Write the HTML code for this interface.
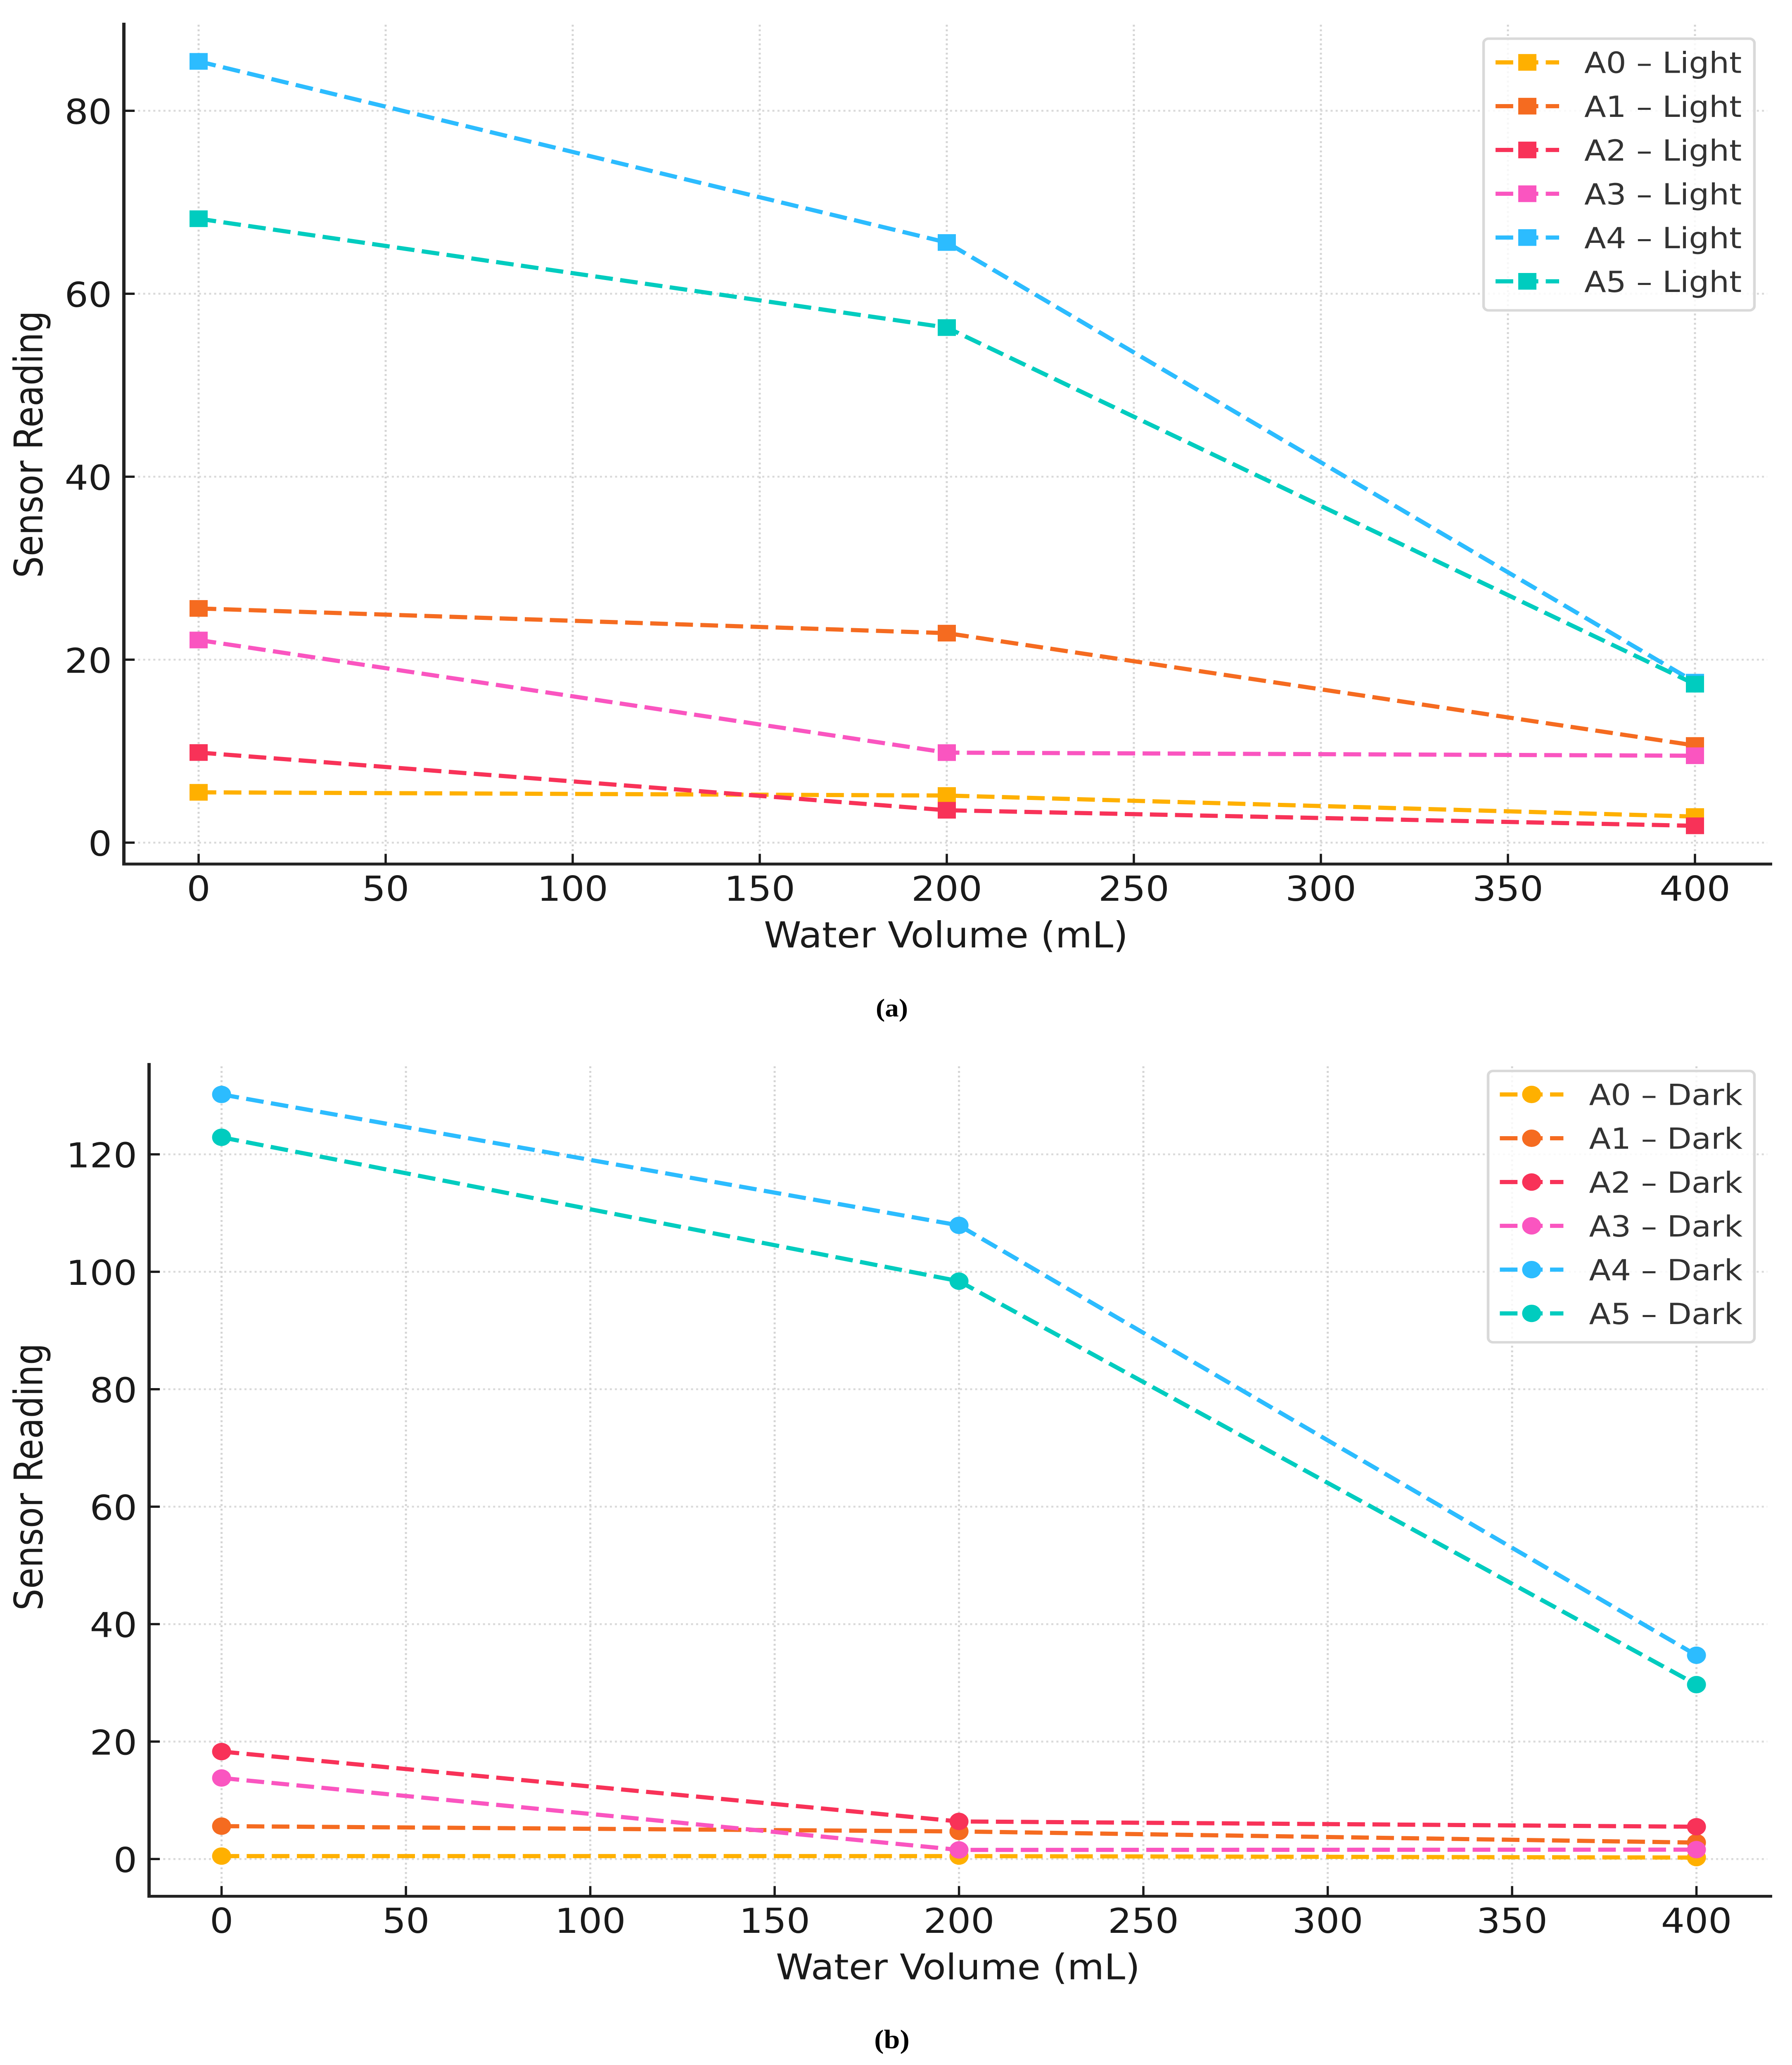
<!DOCTYPE html>
<html lang="en">
<head>
<meta charset="utf-8">
<title>Sensor Reading vs Water Volume</title>
<style>
html,body{margin:0;padding:0;background:#fff;width:100%;height:100%;overflow:hidden;}
svg{display:block;width:100vw;height:100vh;}
text{font-family:"DejaVu Sans","Liberation Sans",sans-serif;}
.tick{font-size:90px;fill:#1a1a1a;}
.title{fill:#1a1a1a;}
.legend-text{font-size:77px;fill:#333;}
.caption{font-family:"Liberation Serif",serif;font-weight:700;fill:#000;}
</style>
</head>
<body>
<svg id="figure" xmlns="http://www.w3.org/2000/svg" viewBox="0 0 4340 5449" preserveAspectRatio="none">
  <rect x="0" y="0" width="4340" height="5449" fill="#fff"/>
  <g id="panel-a"></g>
  <g id="panel-b"></g>
  <text class="title" x="2291" y="2500" font-size="94" text-anchor="middle" textLength="882" lengthAdjust="spacingAndGlyphs">Water Volume (mL)</text>
  <text class="title" transform="translate(102.7,1172.5) rotate(-90)" font-size="95" text-anchor="middle" textLength="705" lengthAdjust="spacingAndGlyphs">Sensor Reading</text>
  <text class="caption" x="2160" y="2682" font-size="67" text-anchor="middle">(a)</text>
  <text class="title" x="2320" y="5222.6" font-size="93" text-anchor="middle" textLength="882" lengthAdjust="spacingAndGlyphs">Water Volume (mL)</text>
  <text class="title" transform="translate(102.7,3897) rotate(-90)" font-size="95" text-anchor="middle" textLength="705" lengthAdjust="spacingAndGlyphs">Sensor Reading</text>
  <text class="caption" x="2160" y="5405" font-size="70" text-anchor="middle">(b)</text>
</svg>
<script>
const waterVolumes = [0, 200, 400];
const xTickLabels = [0, 50, 100, 150, 200, 250, 300, 350, 400];
const lightYTickLabels = [0, 20, 40, 60, 80];
const darkYTickLabels = [0, 20, 40, 60, 80, 100, 120];

const lightNames = ['A0 – Light', 'A1 – Light', 'A2 – Light', 'A3 – Light', 'A4 – Light', 'A5 – Light'];
const darkNames = ['A0 – Dark', 'A1 – Dark', 'A2 – Dark', 'A3 – Dark', 'A4 – Dark', 'A5 – Dark'];

const lightA0 = [5.5, 5.15, 2.85];
const lightA1 = [25.6, 22.9, 10.62];
const lightA2 = [9.85, 3.54, 1.84];
const lightA3 = [22.15, 9.84, 9.5];
const lightA4 = [85.4, 65.6, 17.54];
const lightA5 = [68.2, 56.3, 17.32];

const darkA0 = [0.5, 0.5, 0.25];
const darkA1 = [5.6, 4.7, 2.8];
const darkA2 = [18.3, 6.4, 5.5];
const darkA3 = [13.8, 1.55, 1.6];
const darkA4 = [130.2, 107.9, 34.7];
const darkA5 = [122.9, 98.4, 29.7];

const lightSeries = [lightA0, lightA1, lightA2, lightA3, lightA4, lightA5];
const darkSeries = [darkA0, darkA1, darkA2, darkA3, darkA4, darkA5];
const seriesColors = ['#ffb000', '#f56b20', '#f83258', '#fa55c0', '#2cbcff', '#00ccbf'];

const NS = 'http://www.w3.org/2000/svg';
const LINE_WIDTH = 11;
const LINE_DASH = '42.8 18';
const GRID_DASH = '5 7.29';
const LEGEND_ROW_STEP = 115.55;

function make(parent, tag, attrs, text) {
  const el = document.createElementNS(NS, tag);
  for (const k in attrs) el.setAttribute(k, attrs[k]);
  if (text !== undefined) el.textContent = text;
  parent.appendChild(el);
  return el;
}

function drawMarker(parent, shape, x, y, color) {
  if (shape === 'square') {
    return make(parent, 'rect', {x: x - 22, y: y - 22, width: 44, height: 44, fill: color});
  }
  return make(parent, 'circle', {cx: x, cy: y, r: 23, fill: color});
}

function drawChart(root, cfg) {
  const sx = cfg.xAxis, sy = cfg.yAxis;

  // grid
  xTickLabels.forEach(function (t) {
    const el = make(root, 'line', {x1: sx(t), x2: sx(t), y1: cfg.bottom, y2: cfg.gridTop, stroke: '#d4d4d4', 'stroke-width': 5, 'stroke-dasharray': GRID_DASH, 'stroke-dashoffset': 2.5});
    
    
  });
  cfg.yTicks.forEach(function (t) {
    const el = make(root, 'line', {x1: cfg.left, x2: cfg.gridRight, y1: sy(t), y2: sy(t), stroke: '#dadada', 'stroke-width': 5, 'stroke-dasharray': GRID_DASH, 'stroke-dashoffset': 2.5});
    
    
  });

  // series
  cfg.series.forEach(function (values, i) {
    const g = make(root, 'g', {});
    
    
    const pts = values.map(function (v, j) { return sx(waterVolumes[j]) + ',' + sy(v); }).join(' ');
    const line = make(g, 'polyline', {points: pts, fill: 'none', stroke: seriesColors[i], 'stroke-width': LINE_WIDTH, 'stroke-dasharray': LINE_DASH, 'stroke-linecap': 'butt', 'stroke-linejoin': 'round'});
    
    
    values.forEach(function (v, j) {
      const m = drawMarker(g, cfg.shape, sx(waterVolumes[j]), sy(v), seriesColors[i]);
      
      
    });
  });

  // spines
  const ySpine = make(root, 'line', {x1: cfg.left, x2: cfg.left, y1: cfg.top, y2: cfg.bottom + 3.5, stroke: '#222', 'stroke-width': 8});
  
  
  const xSpine = make(root, 'line', {x1: cfg.left - 4, x2: cfg.right, y1: cfg.bottom, y2: cfg.bottom, stroke: '#222', 'stroke-width': 7.5});
  
  

  // ticks
  xTickLabels.forEach(function (t) {
    const mark = make(root, 'line', {x1: sx(t), x2: sx(t), y1: cfg.bottom, y2: cfg.bottom - 27, stroke: '#1a1a1a', 'stroke-width': 5.5});
    
    
    const label = make(root, 'text', {class: 'tick', x: sx(t), y: cfg.xLabelBaseline, 'text-anchor': 'middle'}, String(t));
    
    
  });
  cfg.yTicks.forEach(function (t) {
    const mark = make(root, 'line', {x1: cfg.left, x2: cfg.left + 26, y1: sy(t), y2: sy(t), stroke: '#1a1a1a', 'stroke-width': 6});
    
    
    const label = make(root, 'text', {class: 'tick', x: cfg.left - 29, y: sy(t) + 34.5, 'text-anchor': 'end'}, String(t));
    
    
  });

  // legend
  const lg = cfg.legend;
  const legend = make(root, 'g', {});
  
  
  const box = make(legend, 'rect', {x: lg.x0, y: lg.y0, width: lg.x1 - lg.x0, height: lg.y1 - lg.y0, rx: 12, ry: 12, fill: '#fff', 'fill-opacity': 0.82, stroke: '#d9d9d9', 'stroke-width': 6.5});
  
  
  cfg.names.forEach(function (name, i) {
    const cy = lg.firstRow + i * LEGEND_ROW_STEP;
    const entry = make(legend, 'g', {});
    
    
    const handle = make(entry, 'line', {x1: lg.handleX, x2: lg.handleX + 154, y1: cy, y2: cy, stroke: seriesColors[i], 'stroke-width': LINE_WIDTH, 'stroke-dasharray': LINE_DASH});
    
    
    const swatch = drawMarker(entry, cfg.shape, lg.handleX + 77, cy, seriesColors[i]);
    
    
    const label = make(entry, 'text', {class: 'legend-text', x: lg.textX, y: cy + 28}, name);
    
    
  });
}

drawChart(document.getElementById('panel-a'), {
  xAxis: function (v) { return 481 + 9.06 * v; },
  yAxis: function (v) { return 2223.5 - 24.14 * v; },
  series: lightSeries, names: lightNames, yTicks: lightYTickLabels, shape: 'square',
  left: 300, right: 4292, top: 60, bottom: 2280, gridTop: 65, gridRight: 4280, xLabelBaseline: 2377,
  legend: {x0: 3593, x1: 4249, y0: 102, y1: 819, firstRow: 164.6, handleX: 3622, textX: 3837}
});

drawChart(document.getElementById('panel-b'), {
  xAxis: function (v) { return 536.6 + 8.93 * v; },
  yAxis: function (v) { return 4905.5 - 15.496 * v; },
  series: darkSeries, names: darkNames, yTicks: darkYTickLabels, shape: 'circle',
  left: 361, right: 4292, top: 2805, bottom: 5003.8, gridTop: 2812, gridRight: 4280, xLabelBaseline: 5100,
  legend: {x0: 3604, x1: 4249, y0: 2826, y1: 3542, firstRow: 2888, handleX: 3632.4, textX: 3848.5}
});
</script>
</body>
</html>
